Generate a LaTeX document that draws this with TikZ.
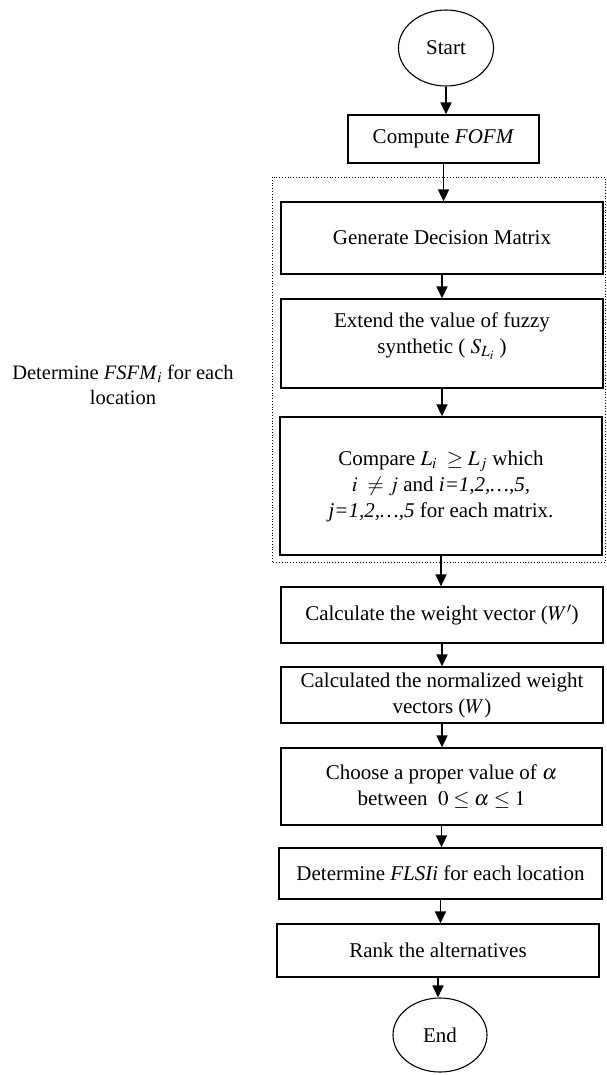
\documentclass[tikz,border=0pt]{standalone}
\usepackage{mathptmx}
\usepackage{fontspec}
\setmainfont{Liberation Serif}
\usetikzlibrary{arrows.meta,shapes.geometric}
\begin{document}
\begin{tikzpicture}[x=1pt,y=-1pt,
  font=\fontsize{21}{26}\selectfont,
  box/.style={draw,line width=1.3pt,rectangle,align=center,inner sep=0pt,minimum width=322pt},
  term/.style={draw,line width=1.1pt,ellipse,inner sep=0pt},
  flow/.style={line width=1.7pt,-{Triangle[length=12pt,width=11pt]}}]
\useasboundingbox (0,0) rectangle (606,1075);
\node[term,minimum width=95pt,minimum height=76pt] (start) at (446,48) {Start};
\node[box,minimum width=191pt,minimum height=48pt] (fofm) at (443.5,139) {Compute \textit{FOFM}};
\node[box,minimum height=72pt] (gen) at (442,238) {Generate Decision Matrix};
\node[box,minimum height=89pt] (ext) at (442,343.5) {\begin{tabular}{@{}c@{}}Extend the value of fuzzy\\synthetic ( $S_{L_i}$ )\\[16pt]\end{tabular}};
\node[box,minimum height=138pt] (cmp) at (441,486) {\fontsize{21}{32}\selectfont Compare $L_i\ \geq L_j$ which\\$i\ \neq j$ and \textit{i=1,2,\ldots,5,}\\\textit{j=1,2,\ldots,5} for each matrix.};
\node[box,minimum height=56pt] (wt) at (442,615) {Calculate the weight vector ($W'$)};
\node[box,minimum height=56pt] (norm) at (442,695) {Calculated the normalized weight\\vectors ($W$)};
\node[box,minimum width=321pt,minimum height=77pt] (choose) at (441.5,786.5) {\fontsize{21}{27}\selectfont Choose a proper value of $\alpha$\\between \ $0 \leq \alpha \leq 1$};
\node[box,minimum width=323pt,minimum height=51pt] (flsi) at (440.5,873.5) {Determine \textit{FLSIi} for each location};
\node[box,minimum height=53pt] (rank) at (438,950.5) {Rank the alternatives};
\node[term,minimum width=94pt,minimum height=74pt] (end) at (440,1035) {End};
\node[align=center,font=\fontsize{20.5}{25}\selectfont] (lbl) at (123,385) {Determine \textit{FSFM}$_i$ for each\\location};
\draw[dotted,line width=0.8pt] (272,177) rectangle (605,562);
\draw[flow] (start.south) -- (start.south |- fofm.north);
\draw[flow] (fofm.south) -- (fofm.south |- gen.north);
\draw[flow] (gen.south) -- (gen.south |- ext.north);
\draw[flow] (ext.south) -- (ext.south |- cmp.north);
\draw[flow] (cmp.south) -- (cmp.south |- wt.north);
\draw[flow] (wt.south) -- (wt.south |- norm.north);
\draw[flow] (norm.south) -- (norm.south |- choose.north);
\draw[flow] (choose.south) -- (choose.south |- flsi.north);
\draw[flow] (flsi.south) -- (flsi.south |- rank.north);
\draw[flow] (rank.south) -- (rank.south |- end.north);
\end{tikzpicture}
\end{document}
